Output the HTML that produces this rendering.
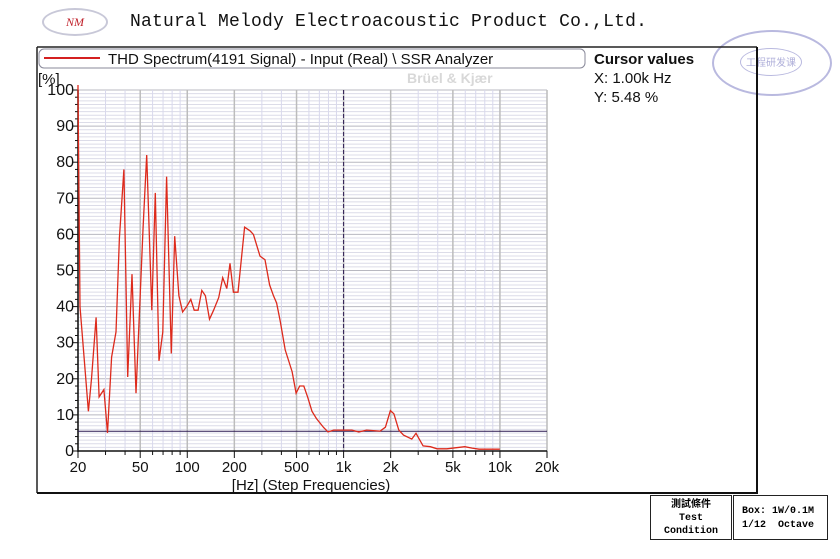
<!DOCTYPE html>
<html><head><meta charset="utf-8"><style>
body{margin:0;background:#fff;width:840px;height:559px;overflow:hidden;position:relative;font-family:"Liberation Sans",sans-serif}
.abs{position:absolute}
</style></head><body>
<div class="abs" style="left:42px;top:8px;width:62px;height:24px;border:2px solid #c8c8d8;border-radius:50%;text-align:center;line-height:24px;color:#c0202a;font-style:italic;font-size:12px;font-family:'Liberation Serif',serif">NM</div>
<div class="abs" style="left:130px;top:12px;font-family:'Liberation Mono',monospace;font-size:18px;color:#111;letter-spacing:0.2px">Natural Melody Electroacoustic Product Co.,Ltd.</div>
<div class="abs" style="left:712px;top:30px;width:116px;height:62px;border:2px solid #a8a8d8;border-radius:50%;opacity:.8"><div style="position:absolute;left:26px;top:16px;width:60px;height:26px;border:1px solid #a8a8d8;border-radius:50%;font-family:'Noto Sans CJK SC',sans-serif;font-size:10px;color:#9a9ad0;text-align:center;line-height:26px">工程研发课</div></div>
<svg class="abs" style="left:0;top:0" width="840" height="559">
<line x1="37" y1="47" x2="757" y2="47" stroke="#222" stroke-width="1.5"/>
<line x1="37" y1="47" x2="37" y2="493" stroke="#222" stroke-width="1.5"/>
<line x1="757" y1="47" x2="757" y2="493" stroke="#111" stroke-width="2"/>
<line x1="37" y1="493" x2="758" y2="493" stroke="#111" stroke-width="2"/>
<rect x="39" y="49" width="546" height="19" rx="5" fill="#fff" stroke="#889"/>
<line x1="44" y1="58" x2="100" y2="58" stroke="#d42020" stroke-width="2"/>
<text x="108" y="64" font-size="15" fill="#111">THD Spectrum(4191 Signal) - Input (Real) \ SSR Analyzer</text>
<text x="407" y="83" font-size="14" font-weight="bold" fill="#d8d8d8">Brüel &amp; Kjær</text>
<text x="594" y="64" font-size="15" font-weight="bold" fill="#111">Cursor values</text>
<text x="594" y="83" font-size="15" fill="#111">X: 1.00k Hz</text>
<text x="594" y="102" font-size="15" fill="#111">Y: 5.48 %</text>
<text x="38" y="84" font-size="15" fill="#111">[%]</text>
<g id="grid"></g><g id="axes"></g><g id="marks"></g>
<text x="311" y="490" font-size="15" text-anchor="middle" fill="#111">[Hz] (Step Frequencies)</text>
</svg>
<div class="abs" style="left:650px;top:495px;width:82px;height:45px;border:1.5px solid #222;font-family:'Liberation Mono','Noto Sans CJK TC',monospace;font-size:10px;font-weight:bold;text-align:center;line-height:13px;padding-top:3px;box-sizing:border-box">測試條件<br>Test<br>Condition</div>
<div class="abs" style="left:733px;top:495px;width:95px;height:45px;border:1.5px solid #222;font-family:'Liberation Mono',monospace;font-size:10px;font-weight:bold;line-height:14px;padding:9px 0 0 8px;box-sizing:border-box;white-space:pre">Box: 1W/0.1M
1/12  Octave</div>
<script>
const freqs=[20,20.6,23.3,24.4,26.1,27.3,29.3,30.9,32.8,35,36.8,39.3,41.6,44.3,47,52.2,55,59.3,62.4,65.9,69.7,73.7,79,83.1,88.4,93.4,99,105.4,110.8,117.3,123.8,130.6,138.8,147.4,158.9,168.4,178.9,187.6,197.3,211,232.8,252,265,292,314,336,356,373,393,423,468,497,524,556,588,628,670,745,795,864,1000,1130,1250,1404,1711,1850,1993,2097,2253,2415,2730,2906,3223,3590,3960,4580,5960,6640,7360,9980];
const thd=[100,40,11,20,37,15,17,5,26,33,59,78,20.5,49,16,62,82,39,71.5,25,33,76,27,59.5,43,38.5,40,42,39,39,44.5,43,36.5,39,42.5,48,45,52,44,44,62,61,60,54,53,46,43,41,36,28,22,16,18,18,15,11,9,6.5,5.3,5.8,5.8,5.8,5.3,5.8,5.5,6.6,11.2,10.3,5.8,4.4,3.3,4.9,1.4,1.2,0.6,0.6,1.2,0.8,0.5,0.5];
const xTicks=[20,50,100,200,500,1000,2000,5000,10000,20000];
const xTickLabels=["20","50","100","200","500","1k","2k","5k","10k","20k"];
const yTicks=[0,10,20,30,40,50,60,70,80,90,100];
const cursorX=1000, cursorY=5.48;
const X0=78,X1=547,Y0=451,Y1=90;
const sx=f=>X0+(Math.log10(f)-Math.log10(20))/3*(X1-X0);
const sy=v=>Y0-(v/100)*(Y0-Y1);
const NS="http://www.w3.org/2000/svg";
function mk(p,t,a){const e=document.createElementNS(NS,t);for(const k in a)e.setAttribute(k,a[k]);p.appendChild(e);return e;}
const grid=document.getElementById('grid'),axes=document.getElementById('axes'),marks=document.getElementById('marks');
for(let v=0;v<=100;v++){const l=mk(grid,'line',{x1:X0,x2:X1,y1:sy(v),y2:sy(v),stroke:v%10==0?'#b8b8c0':'#dcdce8','stroke-width':1});

}
for(let d=10;d<=10000;d*=10)for(let m=1;m<10;m++){const f=d*m;if(f<20||f>20000)continue;const major=xTicks.includes(f);
const l=mk(grid,'line',{x1:sx(f),x2:sx(f),y1:Y1,y2:Y0,stroke:major?'#bcbcbc':'#d8d8ec','stroke-width':major?1.5:1});

}
mk(axes,'line',{x1:X0,x2:X0,y1:Y1,y2:Y0+1,stroke:'#111','stroke-width':1.5});
mk(axes,'line',{x1:X0,x2:X1,y1:Y0,y2:Y0,stroke:'#111','stroke-width':1.5});
for(let v=0;v<=100;v+=2){mk(axes,'line',{x1:X0-(v%10==0?6:3),x2:X0,y1:sy(v),y2:sy(v),stroke:'#111','stroke-width':1});}
yTicks.forEach(v=>{const t=mk(axes,'text',{x:X0-4,y:sy(v)+5,'font-size':16,'text-anchor':'end',fill:'#111'});t.textContent=v;

});
for(let d=10;d<=10000;d*=10)for(let m=1;m<10;m++){const f=d*m;if(f<20||f>20000)continue;const major=xTicks.includes(f);
mk(axes,'line',{x1:sx(f),x2:sx(f),y1:Y0,y2:Y0+(major?7:4),stroke:'#111','stroke-width':1});}
xTicks.forEach((f,i)=>{const t=mk(axes,'text',{x:sx(f),y:Y0+21,'font-size':15,'text-anchor':'middle',fill:'#111'});t.textContent=xTickLabels[i];

});
const hc=mk(marks,'line',{x1:X0,x2:X1,y1:sy(cursorY),y2:sy(cursorY),stroke:'#2a1850','stroke-width':1});


const vc=mk(marks,'line',{x1:sx(cursorX),x2:sx(cursorX),y1:Y1,y2:Y0,stroke:'#2a1850','stroke-width':1,'stroke-dasharray':'4,2'});


const pts=freqs.map((f,i)=>sx(f).toFixed(1)+','+sy(Math.min(thd[i],101)).toFixed(1));
pts.unshift(sx(20)+','+(Y1-5));
const pl=mk(marks,'polyline',{points:pts.join(' '),fill:'none',stroke:'#dd2a1c','stroke-width':1.3});


</script>
</body></html>
